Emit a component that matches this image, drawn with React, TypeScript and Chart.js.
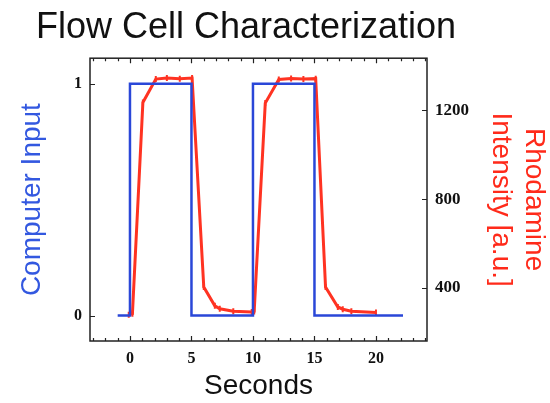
import React, { useEffect, useRef } from "react";
import { Chart, registerables } from "chart.js";

Chart.register(...registerables);

// Computer input (step signal)
const inputTime = [-1, 0, 0, 5, 5, 10, 10, 15, 15, 22.2];
const inputValue = [0, 0, 1, 1, 0, 0, 1, 1, 0, 0];

// Rhodamine intensity [a.u.]
const rhodTime = [
  -0.1, 0.2, 1.05, 2.1, 3.0, 4.05, 5.05, 6.0, 6.9, 7.3, 8.4, 9.9,
  10.1, 11.0, 12.1, 13.1, 14.1, 15.1, 15.9, 16.9, 17.3, 18.0, 20.0,
];
const rhodValue = [
  280, 285, 1235, 1340, 1345, 1342, 1345, 405, 320, 307, 296, 292,
  295, 1232, 1338, 1343, 1340, 1342, 405, 315, 305, 296, 290,
];

const xTickValues = [0, 5, 10, 15, 20];
const leftTickValues = [0, 1];
const rightTickValues = [400, 800, 1200];

const BLUE = "#2a47d8";
const RED = "#ff3322";

const framePlugin = {
  id: "frame",
  afterDatasetsDraw(chart: any) {
    const { ctx, chartArea: a, scales } = chart;
    ctx.save();
    ctx.strokeStyle = "#222";
    ctx.lineWidth = 1.5;
    ctx.strokeRect(a.left, a.top, a.right - a.left, a.bottom - a.top);
    ctx.lineWidth = 1.2;
    ctx.beginPath();
    const x = scales.x;
    for (let v = Math.ceil(x.min); v <= x.max; v++) {
      const px = Math.round(x.getPixelForValue(v)) + 0.5;
      const len = v % 5 === 0 ? 5 : 3;
      ctx.moveTo(px, a.bottom);
      ctx.lineTo(px, a.bottom - len);
      ctx.moveTo(px, a.top);
      ctx.lineTo(px, a.top + len);
    }
    const y = scales.y;
    for (const v of leftTickValues) {
      const py = Math.round(y.getPixelForValue(v)) + 0.5;
      ctx.moveTo(a.left, py);
      ctx.lineTo(a.left + 5, py);
    }
    const y1 = scales.y1;
    for (const v of rightTickValues) {
      const py = Math.round(y1.getPixelForValue(v)) + 0.5;
      ctx.moveTo(a.right, py);
      ctx.lineTo(a.right - 5, py);
    }
    ctx.stroke();
    ctx.restore();
  },
};

export default function App() {
  const ref = useRef<HTMLCanvasElement | null>(null);

  useEffect(() => {
    if (!ref.current) return;
    const tickFont = { family: "'Liberation Serif', serif", weight: "bold" as const, size: 16 };
    const sans = "'Liberation Sans', Arial, sans-serif";
    const chart = new Chart(ref.current, {
      type: "line",
      data: {
        datasets: [
          {
            label: "Computer Input",
            data: inputTime.map((t, i) => ({ x: t, y: inputValue[i] })),
            borderColor: BLUE,
            borderWidth: 2.5,
            pointRadius: 0,
            tension: 0,
            yAxisID: "y",
          },
          {
            label: "Rhodamine Intensity [a.u.]",
            data: rhodTime.map((t, i) => ({ x: t, y: rhodValue[i] })),
            borderColor: RED,
            backgroundColor: RED,
            borderWidth: 3,
            pointStyle: "line",
            pointRotation: 90,
            pointRadius: 3,
            pointBorderWidth: 2,
            pointBorderColor: RED,
            tension: 0,
            yAxisID: "y1",
          },
        ],
      },
      options: {
        responsive: false,
        animation: false,
        events: [],
        layout: { padding: { left: -58, right: 0, top: 0, bottom: 0 } },
        plugins: {
          legend: { display: false },
          tooltip: { enabled: false },
          title: {
            display: true,
            text: "Flow Cell Characterization",
            color: "#111",
            font: { family: sans, size: 36, weight: "normal" },
            padding: { top: 6, bottom: 9 },
          },
        },
        scales: {
          x: {
            type: "linear",
            min: -3.25,
            max: 24.15,
            grid: { display: false, drawTicks: false },
            border: { display: false },
            afterBuildTicks: (s: any) => {
              s.ticks = xTickValues.map((v) => ({ value: v }));
            },
            afterFit: (s: any) => {
              s.height = 62;
            },
            ticks: { color: "#111", font: tickFont, padding: 8, maxRotation: 0, callback: (v: any) => String(v) },
            title: {
              display: true,
              text: "Seconds",
              color: "#111",
              font: { family: sans, size: 28, weight: "normal" },
              padding: { top: 0, bottom: 0 },
            },
          },
          y: {
            type: "linear",
            position: "left",
            min: -0.11,
            max: 1.11,
            grid: { display: false, drawTicks: false },
            border: { display: false },
            afterBuildTicks: (s: any) => {
              s.ticks = leftTickValues.map((v) => ({ value: v }));
            },
            afterFit: (s: any) => {
              s.width = 148;
            },
            ticks: { color: "#111", font: tickFont, padding: 8, callback: (v: any) => String(v) },
            title: {
              display: true,
              text: "Computer Input",
              color: "#3358e0",
              font: { family: sans, size: 28, weight: "normal" },
              padding: { top: 73, bottom: 0 },
            },
          },
          y1: {
            type: "linear",
            position: "right",
            min: 162,
            max: 1434,
            grid: { display: false, drawTicks: false },
            border: { display: false },
            afterBuildTicks: (s: any) => {
              s.ticks = rightTickValues.map((v) => ({ value: v }));
            },
            afterFit: (s: any) => {
              s.width = 123;
            },
            ticks: {
              color: "#111",
              font: { family: "'Liberation Serif', serif", weight: "bold", size: 17 },
              padding: 8,
              callback: (v: any) => String(v),
            },
            title: {
              display: true,
              text: ["Rhodamine", "Intensity [a.u.]"],
              color: "#ff2a1a",
              font: { family: sans, size: 28, weight: "normal", lineHeight: 1.18 },
              padding: { top: 0, bottom: 0 },
            },
          },
        },
      },
      plugins: [framePlugin],
    });
    return () => chart.destroy();
  }, []);

  return (
    <div style={{ position: "fixed", left: 0, top: 0, width: 550, height: 403, background: "#fff" }}>
      <canvas ref={ref} width={550} height={403} />
    </div>
  );
}
